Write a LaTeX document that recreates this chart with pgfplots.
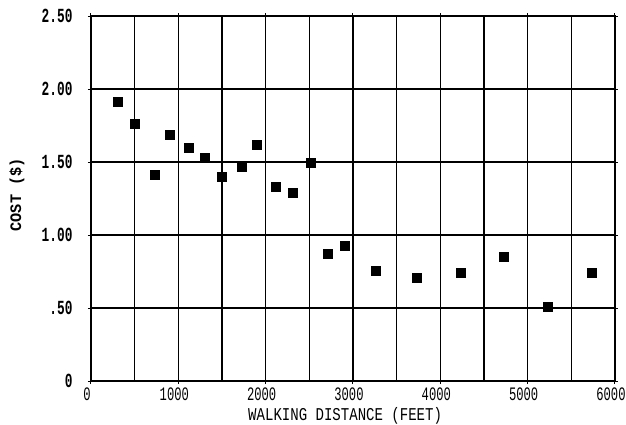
\documentclass[border=0pt]{standalone}
\usepackage{fontspec}
\setmainfont{Liberation Mono}
\newfontfamily\labfont{Liberation Mono}[FakeStretch=0.78]
\newfontfamily\ylabfont{Liberation Mono}[FakeStretch=0.95]
\newfontfamily\tickfont{Liberation Mono}[FakeStretch=0.64]
\usepackage{pgfplots}
\pgfplotsset{compat=1.18}
\begin{document}
\begin{tikzpicture}
\useasboundingbox (-91pt,-43pt) rectangle (535pt,381pt);
\begin{axis}[
  at={(0pt,0pt)}, anchor=south west,
  scale only axis, width=524pt, height=365pt,
  xmin=0, xmax=6000, ymin=0, ymax=2.5,
  xtick={0,1000,2000,3000,4000,5000,6000},
  xticklabels={0,1000,2000,3000,4000,5000,6000},
  minor xtick={500,1500,2500,3500,4500,5500},
  ytick={0,0.5,1,1.5,2,2.5},
  yticklabels={0,.50,1.00,1.50,2.00,2.50},
  grid=both,
  major grid style={black, line width=1.4pt},
  minor grid style={black, line width=1.4pt},
  axis line style={black, line width=1.6pt},
  tick style={black, line width=1pt},
  major tick length=3pt, minor tick length=0pt,
  tick align=outside,
  /pgf/number format/assume math mode=true,
  xticklabel style={font=\tickfont\fontsize{19}{19}\selectfont, anchor=north, inner sep=0pt, yshift=-4pt, xshift=-4pt},
  yticklabel style={font=\tickfont\bfseries\fontsize{20}{20}\selectfont, anchor=east, xshift=-12pt},
  xlabel={WALKING DISTANCE (FEET)},
  ylabel={COST (\$)},
  xlabel style={font=\labfont\fontsize{18}{18}\selectfont, inner sep=0pt, at={(axis description cs:0.485,0)}, anchor=center, yshift=-35pt},
  ylabel style={font=\ylabfont\bfseries\fontsize{16}{16}\selectfont, at={(axis description cs:0,0.51)}, anchor=center, yshift=74pt},
]
\addplot[only marks, mark=square*, mark size=4.5pt, black] coordinates {
  (309,1.91) (504,1.76) (733,1.41) (905,1.69) (1122,1.60) (1305,1.53)
  (1500,1.40) (1729,1.47) (1901,1.62) (2118,1.33) (2313,1.29) (2517,1.495)
  (2709,0.87) (2907,0.93) (3258,0.753) (3732,0.707) (4236,0.744) (4729,0.849)
  (5228,0.507) (5733,0.744)
};
\end{axis}
\end{tikzpicture}
\end{document}
